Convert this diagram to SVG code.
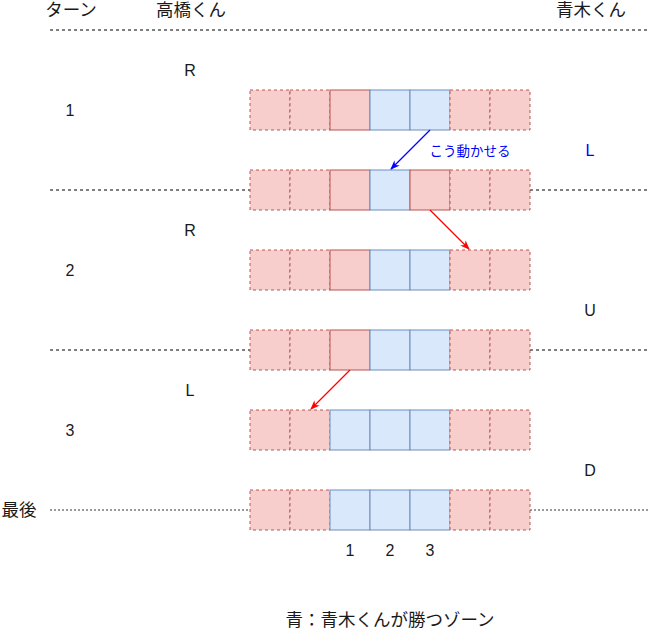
<svg xmlns="http://www.w3.org/2000/svg" width="652" height="632" viewBox="0 0 652 632">
<style>
.t{font-family:"Liberation Sans","Noto Sans CJK JP",sans-serif;font-size:16px;fill:#1a1a1a;text-anchor:middle;dominant-baseline:central}
.j{font-size:17.5px}
.rd{fill:#f8cecc;stroke:#b85450;stroke-dasharray:3 3}
.rs{fill:#f8cecc;stroke:#b85450}
.b{fill:#dae8fc;stroke:#6c8ebf}
.sep{stroke:#000;stroke-dasharray:3 3;fill:none}
.sepg{stroke:#999;stroke-dasharray:2 2;stroke-width:2;fill:none}
</style>
<defs>
<marker id="ab" viewBox="0 0 10 10" refX="9" refY="5" markerWidth="8" markerHeight="8" orient="auto"><path d="M0,1 L10,5 L0,9 L3,5 Z" fill="#0000ff"/></marker>
<marker id="ar" viewBox="0 0 10 10" refX="9" refY="5" markerWidth="8" markerHeight="8" orient="auto"><path d="M0,1 L10,5 L0,9 L3,5 Z" fill="#ff0000"/></marker>
</defs>
<rect width="652" height="632" fill="#fff"/>
<g id="separators">
<path class="sep" d="M50,30 H650"/>
<path class="sep" d="M50,190 H250 M530,190 H650"/>
<path class="sep" d="M50,350 H250 M530,350 H650"/>
<path class="sepg" d="M50,510 H250 M530,510 H650"/>
</g>
<g id="row1">
<rect class="rd" x="250" y="90" width="40" height="40"/><rect class="rd" x="290" y="90" width="40" height="40"/><rect class="rs" x="330" y="90" width="40" height="40"/><rect class="b" x="370" y="90" width="40" height="40"/><rect class="b" x="410" y="90" width="40" height="40"/><rect class="rd" x="450" y="90" width="40" height="40"/><rect class="rd" x="490" y="90" width="40" height="40"/>
</g>
<g id="row2">
<rect class="rd" x="250" y="170" width="40" height="40"/><rect class="rd" x="290" y="170" width="40" height="40"/><rect class="rs" x="330" y="170" width="40" height="40"/><rect class="b" x="370" y="170" width="40" height="40"/><rect class="rs" x="410" y="170" width="40" height="40"/><rect class="rd" x="450" y="170" width="40" height="40"/><rect class="rd" x="490" y="170" width="40" height="40"/>
</g>
<g id="row3">
<rect class="rd" x="250" y="250" width="40" height="40"/><rect class="rd" x="290" y="250" width="40" height="40"/><rect class="rs" x="330" y="250" width="40" height="40"/><rect class="b" x="370" y="250" width="40" height="40"/><rect class="b" x="410" y="250" width="40" height="40"/><rect class="rd" x="450" y="250" width="40" height="40"/><rect class="rd" x="490" y="250" width="40" height="40"/>
</g>
<g id="row4">
<rect class="rd" x="250" y="330" width="40" height="40"/><rect class="rd" x="290" y="330" width="40" height="40"/><rect class="rs" x="330" y="330" width="40" height="40"/><rect class="b" x="370" y="330" width="40" height="40"/><rect class="b" x="410" y="330" width="40" height="40"/><rect class="rd" x="450" y="330" width="40" height="40"/><rect class="rd" x="490" y="330" width="40" height="40"/>
</g>
<g id="row5">
<rect class="rd" x="250" y="410" width="40" height="40"/><rect class="rd" x="290" y="410" width="40" height="40"/><rect class="b" x="330" y="410" width="40" height="40"/><rect class="b" x="370" y="410" width="40" height="40"/><rect class="b" x="410" y="410" width="40" height="40"/><rect class="rd" x="450" y="410" width="40" height="40"/><rect class="rd" x="490" y="410" width="40" height="40"/>
</g>
<g id="row6">
<rect class="rd" x="250" y="490" width="40" height="40"/><rect class="rd" x="290" y="490" width="40" height="40"/><rect class="b" x="330" y="490" width="40" height="40"/><rect class="b" x="370" y="490" width="40" height="40"/><rect class="b" x="410" y="490" width="40" height="40"/><rect class="rd" x="450" y="490" width="40" height="40"/><rect class="rd" x="490" y="490" width="40" height="40"/>
</g>
<g id="connectors">
<path d="M430,130 L391,169" stroke="#0000ff" stroke-width="1.2" fill="none" marker-end="url(#ab)"/>
<path d="M430,210 L469,249" stroke="#ff0000" stroke-width="1.2" fill="none" marker-end="url(#ar)"/>
<path d="M350,370 L311,409" stroke="#ff0000" stroke-width="1.2" fill="none" marker-end="url(#ar)"/>
</g>
<g id="labels">
<text class="t j" x="71" y="10">ターン</text>
<text class="t j" x="191" y="10">高橋くん</text>
<text class="t j" x="591" y="10">青木くん</text>
<text class="t" x="190" y="70">R</text>
<text class="t" x="70" y="110">1</text>
<text class="t" x="590" y="150" style="fill:#0000ff">L</text>
<text class="t" x="470" y="151" style="fill:#0000ff;font-size:13.5px">こう動かせる</text>
<text class="t" x="190" y="230">R</text>
<text class="t" x="70" y="270">2</text>
<text class="t" x="590" y="310">U</text>
<text class="t" x="190" y="390">L</text>
<text class="t" x="70" y="430">3</text>
<text class="t" x="590" y="470">D</text>
<text class="t j" x="19" y="510">最後</text>
<text class="t" x="350" y="550">1</text>
<text class="t" x="390" y="550">2</text>
<text class="t" x="430" y="550">3</text>
<text class="t j" x="390" y="620">青：青木くんが勝つゾーン</text>
</g>
</svg>
